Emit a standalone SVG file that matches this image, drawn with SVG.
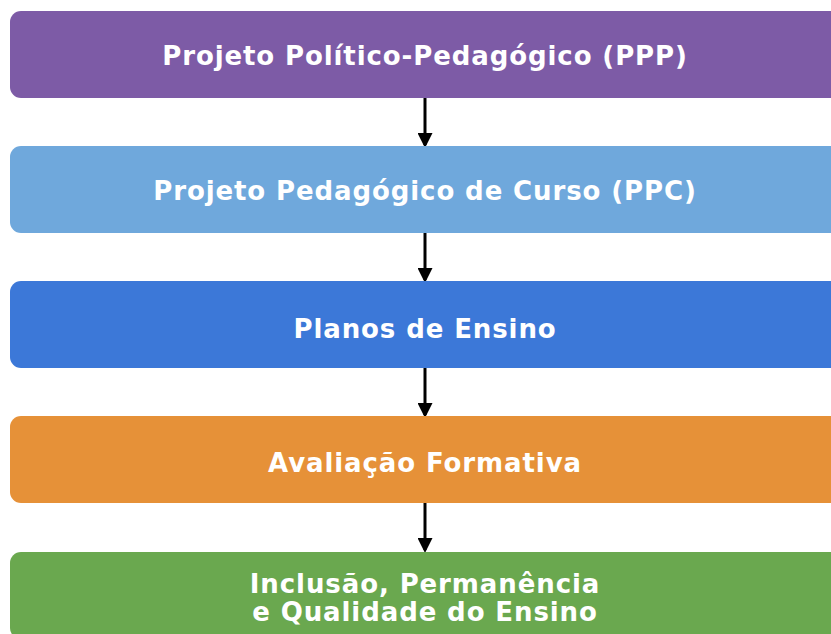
<svg xmlns="http://www.w3.org/2000/svg" width="831" height="634" viewBox="0 0 831 634">
<defs>
<style>
.box{stroke:none}
.lbl{font-family:"DejaVu Sans",sans-serif;font-weight:bold;font-size:26px;letter-spacing:0.9px;fill:#ffffff;text-anchor:middle;dominant-baseline:central}
.conn{stroke:#000;stroke-width:3;fill:none}
</style>
<marker id="ah" markerWidth="5" markerHeight="5" refX="4" refY="2.5" orient="auto" markerUnits="strokeWidth">
<path d="M0,0 L5,2.5 L0,5 z" fill="#000"/>
</marker>
</defs>
<rect width="831" height="634" fill="#fff"/>
<g id="connectors">
<line class="conn" x1="425" y1="98" x2="425" y2="145" marker-end="url(#ah)"/>
<line class="conn" x1="425" y1="233" x2="425" y2="280" marker-end="url(#ah)"/>
<line class="conn" x1="425" y1="368" x2="425" y2="415" marker-end="url(#ah)"/>
<line class="conn" x1="425" y1="503" x2="425" y2="550" marker-end="url(#ah)"/>
</g>
<g id="ppp">
<rect class="box" x="10" y="11" width="832" height="87" rx="11" fill="#7d5ba6"/>
<text class="lbl" x="425" y="56">Projeto Político-Pedagógico (PPP)</text>
</g>
<g id="ppc">
<rect class="box" x="10" y="146" width="832" height="87" rx="11" fill="#6fa8dc"/>
<text class="lbl" x="425" y="191">Projeto Pedagógico de Curso (PPC)</text>
</g>
<g id="planos">
<rect class="box" x="10" y="281" width="832" height="87" rx="11" fill="#3c78d8"/>
<text class="lbl" x="425" y="329">Planos de Ensino</text>
</g>
<g id="avaliacao">
<rect class="box" x="10" y="416" width="832" height="87" rx="11" fill="#e69138"/>
<text class="lbl" x="425" y="463">Avaliação Formativa</text>
</g>
<g id="inclusao">
<rect class="box" x="10" y="552" width="832" height="87" rx="11" fill="#6aa84f"/>
<text class="lbl" x="425" y="584">Inclusão, Permanência</text>
<text class="lbl" x="425" y="612">e Qualidade do Ensino</text>
</g>
</svg>
